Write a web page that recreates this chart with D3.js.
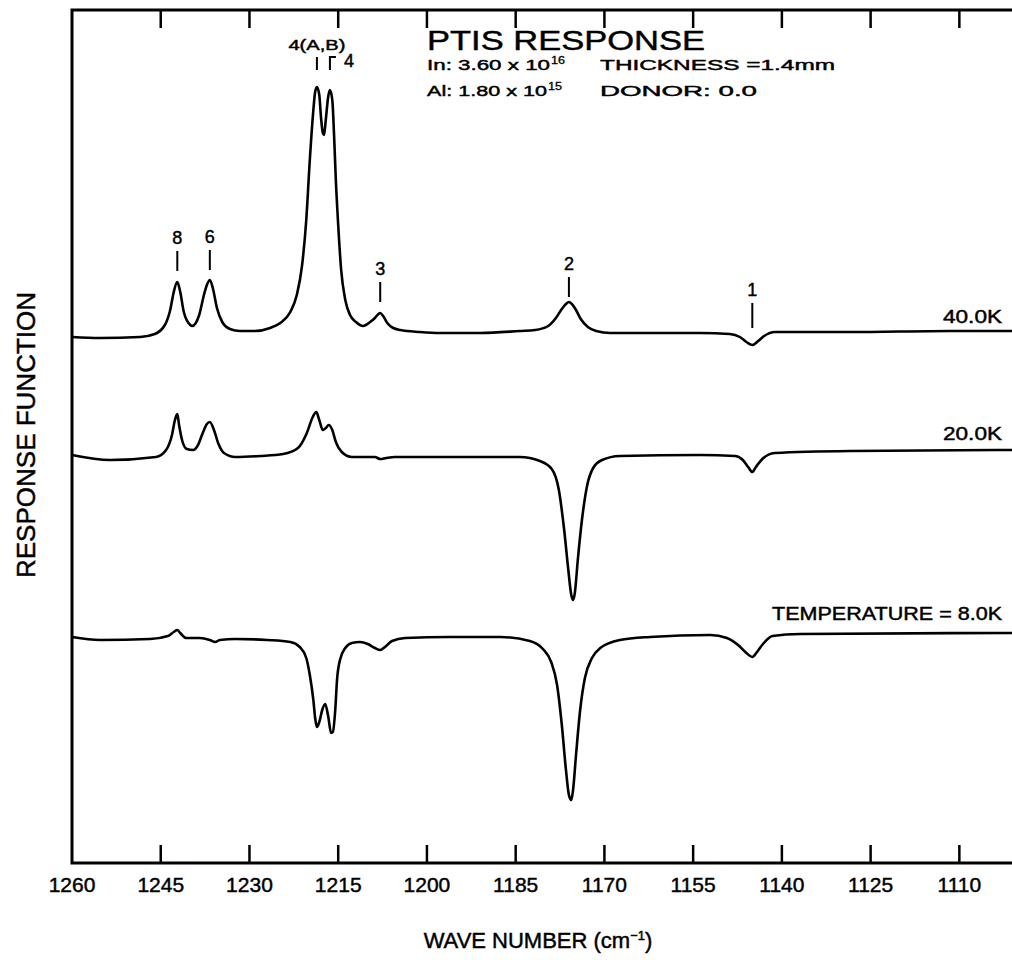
<!DOCTYPE html>
<html>
<head>
<meta charset="utf-8">
<script src="https://cdn.jsdelivr.net/npm/d3@7"></script>
<style>
  body { margin: 0; background: #fff; }
  text { font-family: "Liberation Sans", Arial, sans-serif; fill: #000; stroke: #000; stroke-width: 0.45px; }
</style>
</head>
<body>
<script>
// PTIS response spectra at three temperatures

// x ticks (wave number, cm-1)
var xTicks = [1260, 1245, 1230, 1215, 1200, 1185, 1170, 1155, 1140, 1125, 1110];

// curve names and vertical offsets (arbitrary response units)
var temps = ["40.0K", "20.0K", "TEMPERATURE = 8.0K"];
var offsets = [53.0, 40.8, 22.6];

// wave numbers / response
var wn40 = [1260, 1255.3, 1248.5, 1246.0, 1244.3, 1243.4, 1242.8, 1242.2, 1241.7, 1241.1, 1240.0, 1239.7, 1238.5, 1237.7, 1237.2, 1236.7, 1236.2, 1235.5, 1234.6, 1233.3, 1231.6, 1229.1, 1226.5, 1224.8, 1223.1, 1222.0, 1221.1, 1220.4, 1219.8, 1219.2, 1218.9, 1218.6, 1218.2, 1217.9, 1217.6, 1217.4, 1217.1, 1216.7, 1216.4, 1216.0, 1215.7, 1215.4, 1215.0, 1214.5, 1213.8, 1213.0, 1212.0, 1210.8, 1209.6, 1208.8, 1208.2, 1207.9, 1207.4, 1206.7, 1205.7, 1204.5, 1201.2, 1197.8, 1191.0, 1184.3, 1181.7, 1179.5, 1178.2, 1177.2, 1176.5, 1176.0, 1175.5, 1174.8, 1174.0, 1172.8, 1171.4, 1169.0, 1153.8, 1148.8, 1147.1, 1146.0, 1145.0, 1144.0, 1143.0, 1141.2, 1128.5, 1111.6, 1101.1];
var r40 = [-0.4, -0.5, -0.4, -0.1, 0.8, 2.3, 4.1, 5.1, 4.1, 2.1, 0.8, 0.7, 1.8, 3.8, 4.8, 5.3, 4.5, 2.5, 1.1, 0.4, 0.2, 0.2, 0.5, 1.0, 2.1, 3.8, 6.8, 11.3, 17.3, 22.3, 24.1, 24.6, 23.8, 21.5, 20.0, 19.8, 21.3, 23.6, 24.3, 23.3, 19.8, 15.3, 10.8, 6.3, 3.3, 1.8, 1.1, 0.7, 1.1, 1.5, 1.9, 2.0, 1.7, 1.0, 0.5, 0.3, 0.1, 0, 0, 0.2, 0.3, 0.7, 1.5, 2.4, 2.9, 3.1, 2.9, 2.3, 1.4, 0.6, 0.2, 0, 0, -0.1, -0.4, -0.9, -1.2, -0.8, -0.3, 0.1, 0.1, 0.2, 0.2];

var wn20 = [1260, 1253.6, 1245.8, 1244.1, 1243.1, 1242.6, 1242.2, 1241.9, 1241.4, 1240.6, 1239.5, 1238.7, 1237.9, 1237.2, 1236.7, 1236.0, 1235.3, 1234.3, 1232.4, 1228.2, 1224.3, 1221.8, 1220.3, 1219.3, 1218.7, 1218.2, 1217.6, 1217.1, 1216.6, 1216.0, 1215.4, 1214.4, 1212.7, 1208.8, 1207.9, 1206.9, 1205.4, 1184.3, 1180.9, 1178.9, 1177.7, 1176.8, 1176.1, 1175.6, 1175.3, 1175.0, 1174.5, 1173.8, 1172.9, 1171.9, 1170.4, 1167.4, 1153.8, 1147.9, 1146.6, 1145.7, 1145.0, 1144.4, 1143.3, 1141.2, 1128.5, 1101.1];
var r20 = [0, -0.5, -0.2, 0.5, 2.0, 3.5, 4.1, 3.0, 1.5, 0.6, 0.5, 1.0, 2.2, 3.1, 3.3, 2.5, 1.2, 0.2, -0.2, -0.1, 0.1, 0.7, 2.2, 3.8, 4.3, 3.5, 2.5, 2.7, 3.0, 2.5, 1.3, 0.3, -0.2, -0.2, -0.4, -0.3, -0.2, -0.2, -0.6, -1.4, -3.5, -7.5, -11.5, -14.0, -14.5, -13.8, -10.5, -6.5, -3.0, -1.3, -0.5, -0.1, 0, -0.1, -0.5, -1.2, -1.7, -1.2, -0.4, 0.2, 0.4, 0.5];

var wn8 = [1260, 1255.3, 1246.8, 1243.8, 1242.8, 1242.2, 1241.7, 1240.7, 1238.4, 1236.7, 1235.8, 1235.0, 1232.4, 1227.0, 1223.1, 1221.5, 1220.4, 1219.8, 1219.2, 1218.9, 1218.6, 1218.2, 1217.7, 1217.2, 1216.7, 1216.2, 1215.9, 1215.5, 1215.2, 1214.7, 1213.8, 1212.7, 1211.3, 1210.0, 1208.8, 1207.9, 1207.1, 1205.9, 1203.7, 1196.1, 1187.6, 1182.6, 1180.4, 1179.0, 1178.0, 1177.2, 1176.5, 1176.0, 1175.6, 1175.3, 1174.8, 1174.1, 1173.3, 1172.1, 1170.7, 1167.4, 1162.3, 1152.1, 1149.3, 1147.4, 1146.0, 1145.0, 1144.2, 1143.2, 1141.6, 1136.9, 1101.1];
var r8 = [0, -0.3, -0.2, 0.1, 0.5, 0.7, 0.4, -0.1, -0.1, -0.3, -0.5, -0.3, -0.2, -0.3, -0.5, -1.0, -2.1, -3.8, -6.3, -8.1, -9.0, -8.5, -7.3, -6.7, -7.9, -9.6, -9.5, -7.3, -4.3, -2.3, -1.1, -0.6, -0.5, -0.7, -1.1, -1.3, -1.0, -0.4, -0.1, 0, 0, -0.4, -1.2, -2.5, -4.8, -8.8, -13.3, -15.8, -16.3, -15.3, -11.8, -7.3, -4.1, -2.1, -1.1, -0.3, 0, 0.2, -0.1, -0.8, -1.6, -2.0, -1.5, -0.7, 0.1, 0.3, 0.4];

// peak markers on the 40K curve
var peakNames = ["8", "6", "3", "2", "1"];
var peakWn = [1242.2, 1236.7, 1207.9, 1176.0, 1145.0];
var peakLevel = [8.2, 8.3, 5.1, 5.6, 3.0];

var margin = {top: 10, right: 0, bottom: 97, left: 72},
    width = 1012 - margin.left - margin.right,
    height = 960 - margin.top - margin.bottom;

var svg = d3.select("body").append("svg")
    .attr("width", 1012)
    .attr("height", 960);

var x = d3.scaleLinear().domain([1260, 1101.1]).range([0, width]),
    y = d3.scaleLinear().domain([0, 85.3]).range([height, 0]);

var g = svg.append("g")
    .attr("transform", "translate(" + margin.left + "," + margin.top + ")");

// frame: left, top and bottom only (right edge runs off the page)
g.append("path")
    .attr("d", "M" + width + ",0H0V" + height + "H" + width)
    .attr("fill", "none")
    .attr("stroke", "#000")
    .attr("stroke-width", 3);

// ticks point inward on top and bottom
[[height, height - 18], [0, 18]].forEach(function(yy) {
  g.append("g").selectAll("line")
      .data(xTicks.slice(1))
      .enter().append("line")
      .attr("x1", function(d) { return x(d); })
      .attr("x2", function(d) { return x(d); })
      .attr("y1", yy[0])
      .attr("y2", yy[1])
      .attr("stroke", "#000")
      .attr("stroke-width", 2.5);
});

g.append("g").selectAll("text")
    .data(xTicks)
    .enter().append("text")
    .attr("x", function(d) { return x(d); })
    .attr("y", height + 29)
    .style("text-anchor", "middle")
    .style("font-size", "21px")
    .text(function(d) { return d; });

// axis titles
var xl = svg.append("text")
    .attr("x", 538)
    .attr("y", 948)
    .style("text-anchor", "middle")
    .style("font-size", "22px");
xl.append("tspan").text("WAVE NUMBER (cm");
xl.append("tspan").attr("dy", -8).style("font-size", "13px").text("\u22121");
xl.append("tspan").attr("dy", 8).text(")");

svg.append("text")
    .attr("transform", "translate(35,435) rotate(-90)")
    .style("text-anchor", "middle")
    .style("font-size", "26px")
    .text("RESPONSE FUNCTION");

// curves
var series = [
  wn40.map(function(w, i) { return [w, r40[i]]; }),
  wn20.map(function(w, i) { return [w, r20[i]]; }),
  wn8.map(function(w, i) { return [w, r8[i]]; })
];

series.forEach(function(s, k) {
  var line = d3.line()
      .curve(d3.curveMonotoneX)
      .x(function(d) { return x(d[0]); })
      .y(function(d) { return y(offsets[k] + d[1]); });
  g.append("path")
      .datum(s)
      .attr("fill", "none")
      .attr("stroke", "#000")
      .attr("stroke-width", 2.6)
      .attr("stroke-linejoin", "round")
      .attr("d", line);
});

// temperature labels at right (the lettering is wide, so fix the length)
g.selectAll(".temp")
    .data(temps)
    .enter().append("text")
    .attr("x", width - 10)
    .attr("y", function(d, i) { return y(offsets[i]) - [10, 15, 17][i]; })
    .attr("textLength", function(d, i) { return i == 2 ? 230 : 59; })
    .attr("lengthAdjust", "spacingAndGlyphs")
    .style("text-anchor", "end")
    .style("font-size", "18px")
    .text(function(d) { return d; });

// peak numbers with little marker lines
var pk = g.selectAll(".peak")
    .data(peakNames)
    .enter().append("g");

pk.append("line")
    .attr("x1", function(d, i) { return x(peakWn[i]); })
    .attr("x2", function(d, i) { return x(peakWn[i]); })
    .attr("y1", function(d, i) { return y(offsets[0] + peakLevel[i]); })
    .attr("y2", function(d, i) { return y(offsets[0] + peakLevel[i]) + (i == 4 ? 25 : 20); })
    .attr("stroke", "#000")
    .attr("stroke-width", 2);

pk.append("text")
    .attr("x", function(d, i) { return x(peakWn[i]); })
    .attr("y", function(d, i) { return y(offsets[0] + peakLevel[i]) - 7; })
    .style("text-anchor", "middle")
    .style("font-size", "18px")
    .text(function(d) { return d; });

// 4(A,B) and 4 markers above the big doublet
var xa = x(1218.6), xb = x(1216.4);
g.append("text")
    .attr("x", xa)
    .attr("y", 40)
    .attr("textLength", 57)
    .attr("lengthAdjust", "spacingAndGlyphs")
    .style("text-anchor", "middle")
    .style("font-size", "15px")
    .text("4(A,B)");
g.append("line")
    .attr("x1", xa).attr("x2", xa)
    .attr("y1", 47).attr("y2", 60)
    .attr("stroke", "#000").attr("stroke-width", 2);
g.append("path")
    .attr("d", "M" + xb + ",60V47H" + (xb + 6))
    .attr("fill", "none")
    .attr("stroke", "#000").attr("stroke-width", 2);
g.append("text")
    .attr("x", xb + 14)
    .attr("y", 57)
    .style("font-size", "18px")
    .text("4");

// header block
svg.append("text")
    .attr("x", 427)
    .attr("y", 50)
    .attr("textLength", 278)
    .attr("lengthAdjust", "spacingAndGlyphs")
    .style("font-size", "28px")
    .text("PTIS RESPONSE");

// [text, superscript, x, baseline, length]
var info = [["In: 3.60 x 10", "16", 427, 70, 123], ["Al: 1.80 x 10", "15", 427, 96, 120],
            ["THICKNESS =1.4mm", "", 600, 70, 235], ["DONOR: 0.0", "", 600, 96, 157]];
info.forEach(function(t) {
  svg.append("text")
      .attr("x", t[2])
      .attr("y", t[3])
      .attr("textLength", t[4])
      .attr("lengthAdjust", "spacingAndGlyphs")
      .style("font-size", "15px")
      .text(t[0]);
  if (t[1]) {
    svg.append("text")
        .attr("x", t[2] + t[4] + 1)
        .attr("y", t[3] - 6)
        .attr("textLength", 14)
        .attr("lengthAdjust", "spacingAndGlyphs")
        .style("font-size", "10px")
        .style("stroke-width", "0.3px")
        .text(t[1]);
  }
});
</script>
</body>
</html>
